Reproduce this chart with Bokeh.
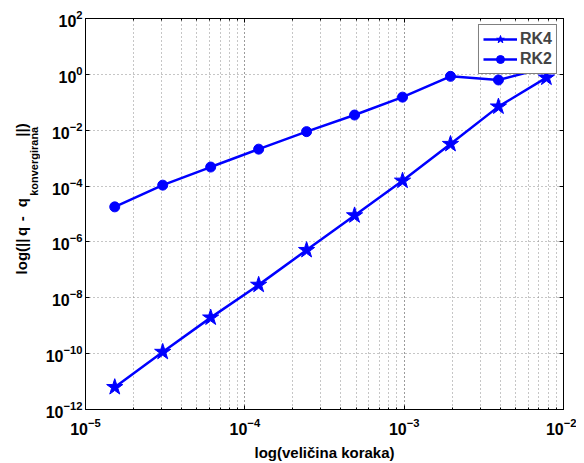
import math
from bokeh.plotting import figure
from bokeh.layouts import row
from bokeh.models import (Range1d, FixedTicker, LogTicker, LogAxis,
                          Legend, LegendItem)
from bokeh.core.properties import value
from bokeh.embed import file_html
from bokeh.resources import INLINE

# ---- data ----
step = [1.526e-5, 3.052e-5, 6.104e-5, 1.221e-4, 2.441e-4,
        4.883e-4, 9.766e-4, 1.953e-3, 3.906e-3, 7.813e-3]
rk4 = [6.3e-12, 1.15e-10, 1.95e-9, 2.9e-8, 5.1e-7,
       8.9e-6, 1.55e-4, 3.2e-3, 0.07, 0.76]
rk2 = [1.8e-5, 1.08e-4, 4.8e-4, 2.1e-3, 8.9e-3,
       0.035, 0.153, 0.85, 0.63, 1.75]
series_names = ["RK4", "RK2"]
y_ticks = [1e-12, 1e-10, 1e-8, 1e-6, 1e-4, 1e-2, 1e0, 1e2]
x_label = "log(veličina koraka)"
y_label_parts = ["log(||", "q", "-", "q", "konvergirana", "||)"]

FONT = "Liberation Sans"
BLUE = "#0000ff"
GRID = "#8c8c8c"
H = 463
LW = 40

p = figure(width=576 - LW, height=H, x_axis_type="log", y_axis_type="log",
           x_range=Range1d(1e-5, 1e-2), y_range=Range1d(1e-12, 1e2),
           output_backend="svg", toolbar_location=None,
           min_border_left=85 - LW, min_border_top=18, min_border_right=13,
           min_border_bottom=48)
p.background_fill_color = "white"
p.border_fill_color = "white"
p.outline_line_color = "black"
p.outline_line_width = 1

p.xaxis[0].ticker = LogTicker(num_minor_ticks=10)
p.yaxis[0].ticker = FixedTicker(ticks=y_ticks, minor_ticks=[])

def style_axis(ax, show_labels=True):
    ax.axis_line_color = "black"
    ax.major_tick_in = 4
    ax.major_tick_out = 0
    ax.minor_tick_in = 2
    ax.minor_tick_out = 0
    ax.major_tick_line_color = "black"
    ax.minor_tick_line_color = "black"
    ax.major_label_text_font = FONT
    ax.major_label_text_font_style = "bold"
    ax.major_label_text_color = "black"
    if show_labels:
        ax.major_label_text_font_size = "16px"
    else:
        ax.major_label_text_font_size = "1px"
        ax.major_label_text_alpha = 0
        ax.major_label_standoff = 0

style_axis(p.xaxis[0])
style_axis(p.yaxis[0])
p.xaxis[0].major_label_standoff = 8
p.yaxis[0].major_label_standoff = 3
p.xaxis[0].axis_label = x_label
p.xaxis[0].axis_label_text_font = FONT
p.xaxis[0].axis_label_text_font_style = "bold"
p.xaxis[0].axis_label_text_font_size = "15px"
p.xaxis[0].axis_label_text_color = "black"
p.xaxis[0].axis_label_standoff = 6

top_ax = LogAxis(ticker=LogTicker(num_minor_ticks=10))
right_ax = LogAxis(ticker=FixedTicker(ticks=y_ticks, minor_ticks=[]))
style_axis(top_ax, False)
style_axis(right_ax, False)
p.add_layout(top_ax, "above")
p.add_layout(right_ax, "right")

p.xgrid.grid_line_color = GRID
p.xgrid.grid_line_dash = "1 3"
p.xgrid.minor_grid_line_color = GRID
p.xgrid.minor_grid_line_dash = "1 3"
p.ygrid.grid_line_color = GRID
p.ygrid.grid_line_dash = "1 3"

l4 = p.line(step, rk4, line_color=BLUE, line_width=2.5)
s4 = p.scatter(step, rk4, marker="star", size=17, fill_color=BLUE,
               line_color=BLUE)
l2 = p.line(step, rk2, line_color=BLUE, line_width=2.5)
s2 = p.scatter(step, rk2, marker="circle", size=10, fill_color=BLUE,
               line_color=BLUE)

legend = Legend(items=[LegendItem(label=series_names[0], renderers=[l4, s4]),
                       LegendItem(label=series_names[1], renderers=[l2, s2])],
                location="top_right")
legend.label_text_font = FONT
legend.label_text_font_style = "bold"
legend.label_text_font_size = "16px"
legend.border_line_color = "black"
legend.border_line_width = 1
legend.background_fill_alpha = 1
legend.glyph_width = 34
legend.spacing = 0
legend.padding = 4
legend.margin = 6
legend.label_standoff = 3
p.add_layout(legend)

# narrow left panel holding the y-axis label (with a subscript)
lf = figure(width=LW, height=H, x_range=Range1d(0, LW), y_range=Range1d(0, H),
            x_axis_type=None, y_axis_type=None, output_backend="svg",
            toolbar_location=None, min_border=0)
lf.outline_line_color = None
lf.grid.visible = False
lf.background_fill_color = "white"
lf.border_fill_color = "white"

# (x, y-from-bottom, align, size) per label part
parts_pos = [(21, H - 303, "left", "15px"),
             (21, H - 252, "center", "15px"),
             (21, H - 237, "center", "15px"),
             (21, H - 218, "center", "15px"),
             (33, H - 210, "left", "11px"),
             (21, H - 140, "left", "15px")]
for txt, (x, y, al, sz) in zip(y_label_parts, parts_pos):
    lf.text(x=[x], y=[y], text=[txt], angle=math.pi / 2,
            text_align=al, text_baseline="middle",
            text_font=value(FONT), text_font_style="bold",
            text_font_size=sz, text_color="black")

layout = row(lf, p, spacing=0)
open("out.html", "w").write(file_html(layout, INLINE))
